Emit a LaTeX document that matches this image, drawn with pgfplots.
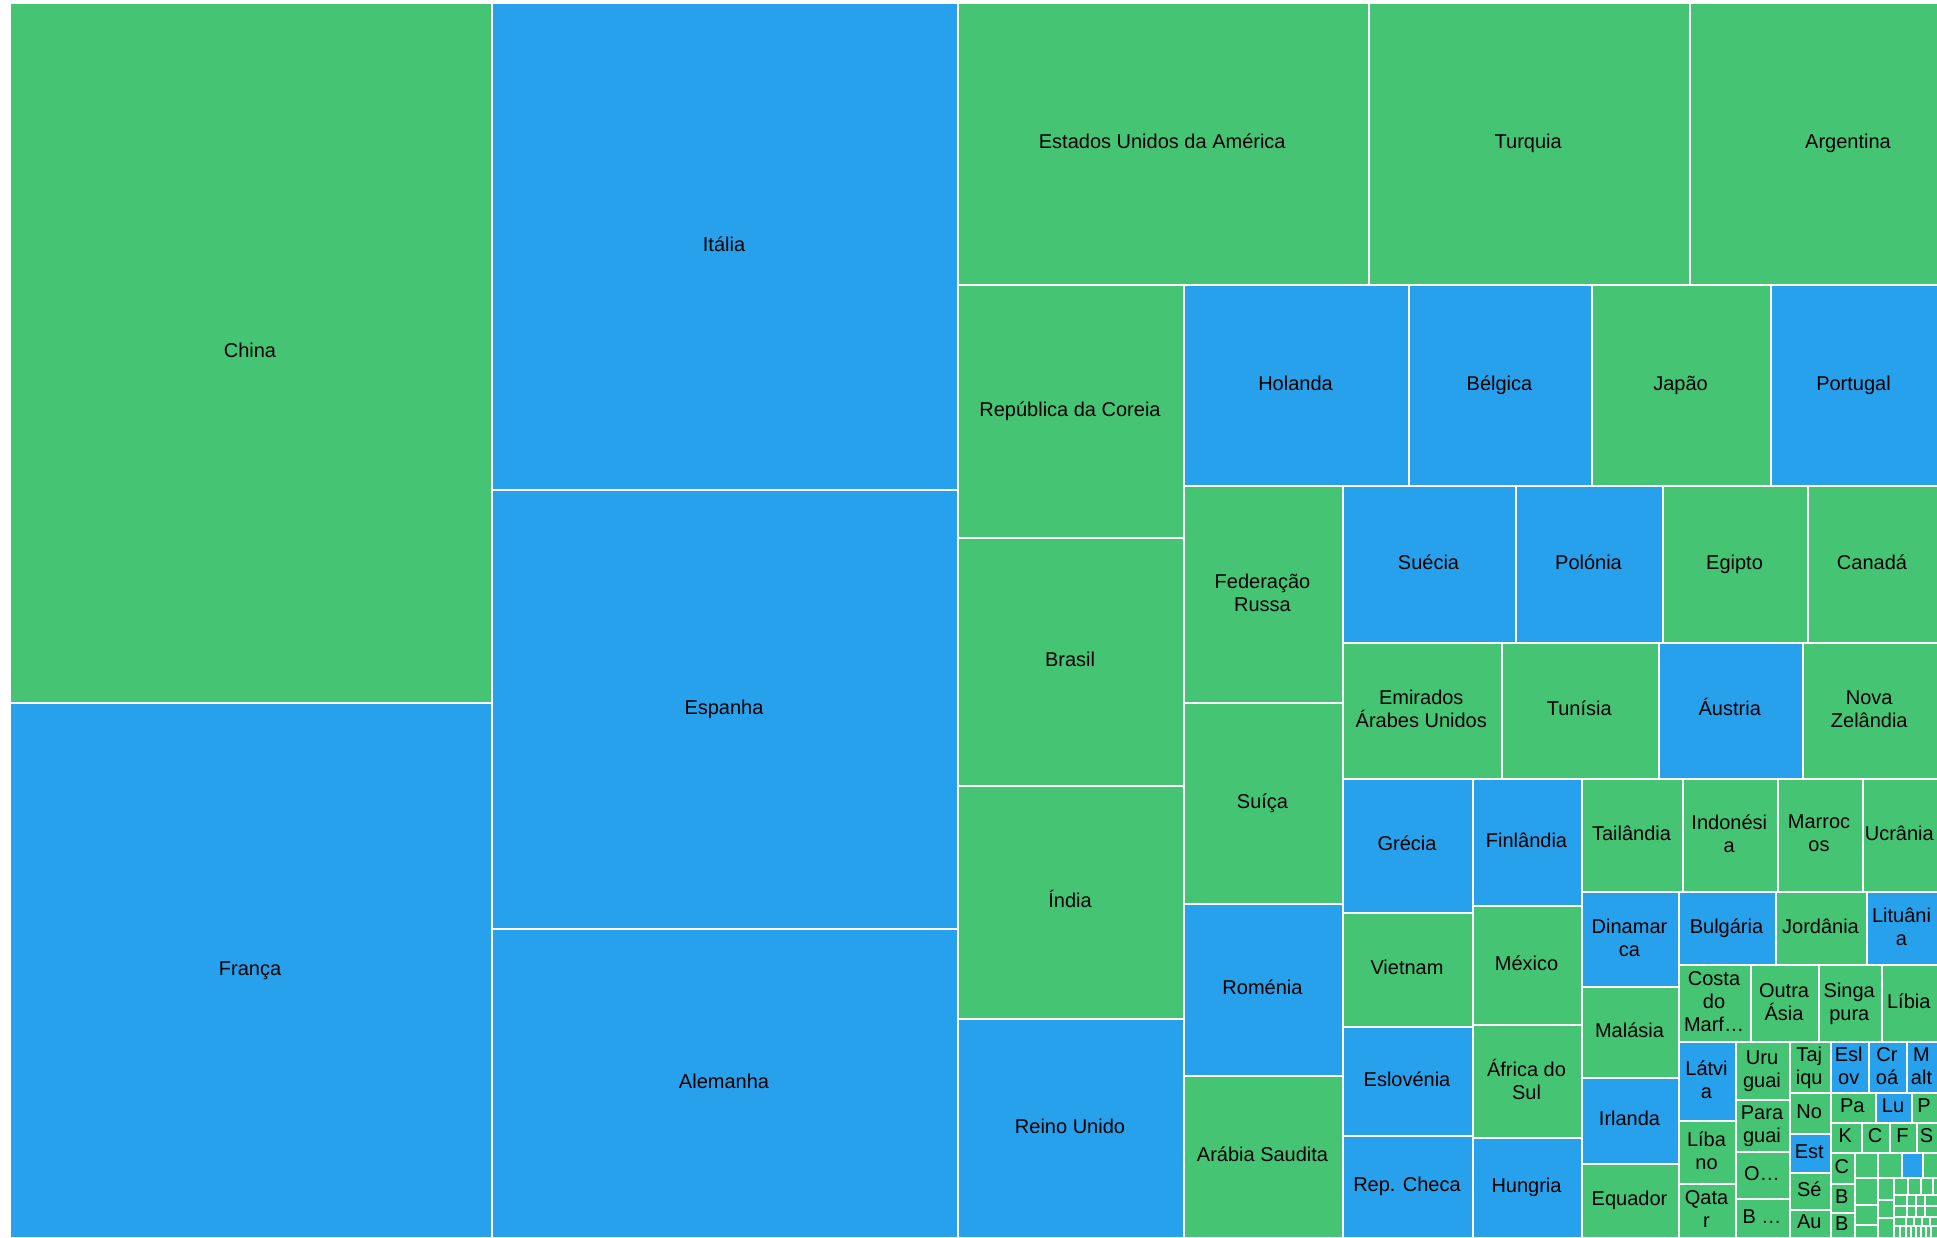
\documentclass[border=0pt]{standalone}
\usepackage{pgfplots}
\pgfplotsset{compat=1.18}
\usepackage{fontspec}
\setmainfont{Liberation Sans}
\definecolor{tmgreen}{RGB}{69,197,115}
\definecolor{tmblue}{RGB}{39,161,236}
\newcommand{\lblstrut}{\rule[-4.6pt]{0pt}{23pt}}
\tikzset{lbl/.style={font=\fontsize{20}{23}\selectfont, align=center, inner sep=0pt, text=black,
  execute at begin node=\lblstrut, execute at end node=\lblstrut, yshift=2pt, xshift=-1pt},
  lblm/.style={lbl, yshift=-2.5pt}}
\newcommand{\cell}[6]{%
  \addplot[fill=#1,draw=white,line width=2pt] coordinates {(#2,#3) (#4,#3) (#4,#5) (#2,#5)} -- cycle;
  \pgfmathsetmacro\cx{(#2+#4)/2}\pgfmathsetmacro\cy{(#3+#5)/2}%
  \edef\tmp{\noexpand\node[lbl] at (axis cs:\cx,\cy) {\unexpanded{#6}};}\tmp
}
\newcommand{\cellm}[6]{%
  \addplot[fill=#1,draw=white,line width=2pt] coordinates {(#2,#3) (#4,#3) (#4,#5) (#2,#5)} -- cycle;
  \pgfmathsetmacro\cx{(#2+#4)/2}\pgfmathsetmacro\cy{(#3+#5)/2}%
  \edef\tmp{\noexpand\node[lblm] at (axis cs:\cx,\cy) {\unexpanded{#6}};}\tmp
}
\newcommand{\cellx}[5]{%
  \addplot[fill=#1,draw=white,line width=2pt] coordinates {(#2,#3) (#4,#3) (#4,#5) (#2,#5)} -- cycle;
}
\begin{document}
\begin{tikzpicture}
\fill[white] (0,0) rectangle (1937pt,1237pt);
\begin{axis}[
  width=1937pt, height=1237pt, scale only axis,
  xmin=0, xmax=1937, ymin=0, ymax=1237, y dir=reverse,
  hide axis, clip=true]
\cell{tmgreen}{10}{3}{492}{703}{China}
\cell{tmblue}{10}{703}{492}{1238}{França}
\cell{tmblue}{492}{3}{958}{490}{Itália}
\cell{tmblue}{492}{490}{958}{929}{Espanha}
\cell{tmblue}{492}{929}{958}{1238}{Alemanha}
\cell{tmgreen}{958}{3}{1368.5}{285}{Estados Unidos da América}
\cell{tmgreen}{1368.5}{3}{1690}{285}{Turquia}
\cellx{tmgreen}{1690}{3}{1938}{285}
\node[lbl] at (axis cs:1849,144) {Argentina};
\cell{tmgreen}{958}{285}{1184}{538}{República da Coreia}
\cell{tmgreen}{958}{538}{1184}{786}{Brasil}
\cell{tmgreen}{958}{786}{1184}{1019}{Índia}
\cell{tmblue}{958}{1019}{1184}{1238}{Reino Unido}
\cell{tmblue}{1184}{285}{1409}{486}{Holanda}
\cell{tmblue}{1409}{285}{1592}{486}{Bélgica}
\cell{tmgreen}{1592}{285}{1771}{486}{Japão}
\cell{tmblue}{1771}{285}{1938}{486}{Portugal}
\cellm{tmgreen}{1184}{486}{1343}{703}{Federação\\Russa}
\cell{tmgreen}{1184}{703}{1343}{904}{Suíça}
\cell{tmblue}{1184}{904}{1343}{1076}{Roménia}
\cell{tmgreen}{1184}{1076}{1343}{1238}{Arábia Saudita}
\cell{tmblue}{1343}{486}{1516}{642.5}{Suécia}
\cell{tmblue}{1516}{486}{1663}{642.5}{Polónia}
\cell{tmgreen}{1663}{486}{1808}{642.5}{Egipto}
\cell{tmgreen}{1808}{486}{1938}{642.5}{Canadá}
\cellm{tmgreen}{1343}{642.5}{1501.5}{778.5}{Emirados\\Árabes Unidos}
\cell{tmgreen}{1501.5}{642.5}{1659}{778.5}{Tunísia}
\cell{tmblue}{1659}{642.5}{1802.5}{778.5}{Áustria}
\cellm{tmgreen}{1802.5}{642.5}{1938}{778.5}{Nova\\Zelândia}
\cell{tmblue}{1343}{778.5}{1473}{913}{Grécia}
\cell{tmgreen}{1343}{913}{1473}{1026.5}{Vietnam}
\cell{tmblue}{1343}{1026.5}{1473}{1136}{Eslovénia}
\cell{tmblue}{1343}{1136}{1473}{1238}{Rep. Checa}
\cell{tmblue}{1473}{778.5}{1582}{906}{Finlândia}
\cell{tmgreen}{1473}{906}{1582}{1024.5}{México}
\cellm{tmgreen}{1473}{1024.5}{1582}{1138}{África do\\Sul}
\cell{tmblue}{1473}{1138}{1582}{1238}{Hungria}
\cell{tmgreen}{1582}{778.5}{1683}{892}{Tailândia}
\cellm{tmgreen}{1683}{778.5}{1777.5}{892}{Indonési\\a}
\cellm{tmgreen}{1777.5}{778.5}{1862.5}{892}{Marroc\\os}
\cell{tmgreen}{1862.5}{778.5}{1938}{892}{Ucrânia}
\cellm{tmblue}{1582}{892}{1679}{987}{Dinamar\\ca}
\cell{tmgreen}{1582}{987}{1679}{1078}{Malásia}
\cell{tmblue}{1582}{1078}{1679}{1164}{Irlanda}
\cell{tmgreen}{1582}{1164}{1679}{1238}{Equador}
\cell{tmblue}{1679}{892}{1776}{965}{Bulgária}
\cell{tmgreen}{1776}{892}{1867}{965}{Jordânia}
\cellm{tmblue}{1867}{892}{1938}{965}{Lituâni\\a}
\cellm{tmgreen}{1679}{965}{1751}{1042}{Costa\\do\\Marf…}
\cellm{tmgreen}{1751}{965}{1819}{1042}{Outra\\Ásia}
\cellm{tmgreen}{1819}{965}{1881.5}{1042}{Singa\\pura}
\cell{tmgreen}{1881.5}{965}{1938}{1042}{Líbia}
\cellm{tmblue}{1679}{1042}{1736}{1121}{Látvi\\a}
\cellm{tmgreen}{1679}{1121}{1736}{1184}{Líba\\no}
\cellm{tmgreen}{1679}{1184}{1736}{1238}{Qata\\r}
\cellm{tmgreen}{1736}{1042}{1790}{1100}{Uru\\guai}
\cellm{tmgreen}{1736}{1100}{1790}{1152}{Para\\guai}
\cell{tmgreen}{1736}{1152}{1790}{1199}{O…}
\cell{tmgreen}{1736}{1199}{1790}{1238}{B …}
\cellm{tmgreen}{1790}{1042}{1830.5}{1093}{Taj\\iqu}
\cell{tmgreen}{1790}{1093}{1830.5}{1134}{No}
\cell{tmblue}{1790}{1134}{1830.5}{1173}{Est}
\cell{tmgreen}{1790}{1173}{1830.5}{1210}{Sé}
\cell{tmgreen}{1790}{1210}{1830.5}{1238}{Au}
\cellm{tmblue}{1830.5}{1042}{1869}{1093}{Esl\\ov}
\cellm{tmblue}{1869}{1042}{1907}{1093}{Cr\\oá}
\cellm{tmblue}{1907}{1042}{1938}{1093}{M\\alt}
\cell{tmgreen}{1830.5}{1093}{1876}{1123}{Pa}
\cell{tmblue}{1876}{1093}{1912}{1123}{Lu}
\cell{tmgreen}{1912}{1093}{1938}{1123}{P}
\cell{tmgreen}{1830.5}{1123}{1862}{1153}{K}
\cell{tmgreen}{1862}{1123}{1890}{1153}{C}
\cell{tmgreen}{1890}{1123}{1917}{1153}{F}
\cell{tmgreen}{1917}{1123}{1938}{1153}{S}
\cell{tmgreen}{1830.5}{1153}{1855}{1184}{C}
\cell{tmgreen}{1830.5}{1184}{1855}{1213}{B}
\cell{tmgreen}{1830.5}{1213}{1855}{1238}{B}
% row y 1153-1178
\cellx{tmgreen}{1855}{1153}{1878}{1178}
\cellx{tmgreen}{1878}{1153}{1901.5}{1178}
\cellx{tmblue}{1901.5}{1153}{1923}{1178}
\cellx{tmgreen}{1923}{1153}{1938}{1178}
% columns
\cellx{tmgreen}{1855}{1178}{1878}{1205}
\cellx{tmgreen}{1855}{1205}{1878}{1225}
\cellx{tmgreen}{1855}{1225}{1878}{1238}
\cellx{tmgreen}{1878}{1178}{1894}{1200}
\cellx{tmgreen}{1878}{1200}{1894}{1218}
\cellx{tmgreen}{1878}{1218}{1894}{1238}
% tiny grid
\cellx{tmgreen}{1894}{1178}{1908}{1195}
\cellx{tmgreen}{1908}{1178}{1921}{1195}
\cellx{tmgreen}{1921}{1178}{1933}{1195}
\cellx{tmgreen}{1933}{1178}{1938}{1195}
\cellx{tmgreen}{1894}{1195}{1907}{1206}
\cellx{tmgreen}{1907}{1195}{1916}{1206}
\cellx{tmgreen}{1916}{1195}{1925}{1206}
\cellx{tmgreen}{1925}{1195}{1938}{1206}
\cellx{tmgreen}{1894}{1206}{1907}{1217}
\cellx{tmgreen}{1907}{1206}{1916}{1217}
\cellx{tmgreen}{1916}{1206}{1925}{1217}
\cellx{tmgreen}{1925}{1206}{1938}{1217}
\cellx{tmgreen}{1894}{1217}{1906}{1226}
\cellx{tmgreen}{1906}{1217}{1914}{1226}
\cellx{tmgreen}{1914}{1217}{1922}{1226}
\cellx{tmgreen}{1922}{1217}{1930}{1226}
\cellx{tmgreen}{1930}{1217}{1938}{1226}
\cellx{tmgreen}{1894}{1226}{1900}{1238}
\cellx{tmgreen}{1900}{1226}{1906}{1238}
\cellx{tmgreen}{1906}{1226}{1911}{1238}
\cellx{tmgreen}{1911}{1226}{1916}{1238}
\cellx{tmgreen}{1916}{1226}{1921}{1238}
\cellx{tmgreen}{1921}{1226}{1926}{1238}
\cellx{tmgreen}{1926}{1226}{1931}{1238}
\cellx{tmgreen}{1931}{1226}{1938}{1238}
\end{axis}
\pgfresetboundingbox
\path (0,0) rectangle (1937pt,1237pt);
\end{tikzpicture}
\end{document}
